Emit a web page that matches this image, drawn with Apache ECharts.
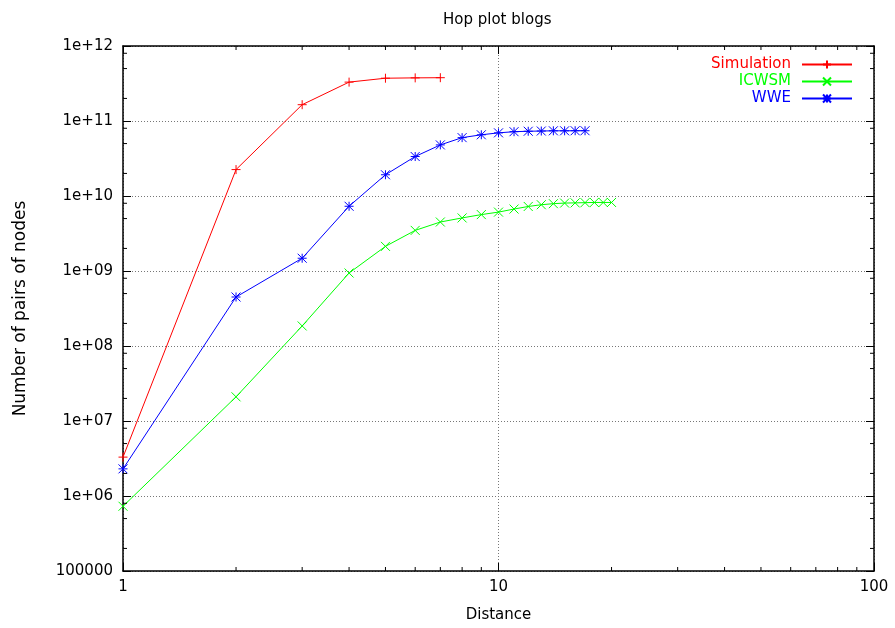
<!DOCTYPE html>
<html>
<head>
<meta charset="utf-8">
<script src="https://cdn.jsdelivr.net/npm/echarts@6/dist/echarts.min.js"></script>
<style>
html, body { margin: 0; padding: 0; background: #fff; }
#chart { width: 895px; height: 628px; }
</style>
</head>
<body>
<div id="chart"></div>
<script>
// ---- data ----
const titleText = 'Hop plot blogs';
const xAxisName = 'Distance';
const yAxisName = 'Number of pairs of nodes';
const seriesNames = ['Simulation', 'ICWSM', 'WWE'];

const simX = [1, 2, 3, 4, 5, 6, 7];
const simY = [3.3e6, 2.25e10, 1.65e11, 3.3e11, 3.72e11, 3.76e11, 3.78e11];

const icwsmX = [1, 2, 3, 4, 5, 6, 7, 8, 9, 10, 11, 12, 13, 14, 15, 16, 17, 18, 19, 20];
const icwsmY = [7.3e5, 2.1e7, 1.85e8, 9.4e8, 2.13e9, 3.48e9, 4.5e9, 5.1e9, 5.65e9, 6.1e9,
                6.7e9, 7.25e9, 7.65e9, 7.9e9, 8.05e9, 8.1e9, 8.15e9, 8.2e9, 8.2e9, 8.2e9];

const wweX = [1, 2, 3, 4, 5, 6, 7, 8, 9, 10, 11, 12, 13, 14, 15, 16, 17];
const wweY = [2.3e6, 4.5e8, 1.48e9, 7.3e9, 1.92e10, 3.36e10, 4.8e10, 6.0e10, 6.55e10, 6.95e10,
              7.2e10, 7.3e10, 7.35e10, 7.4e10, 7.4e10, 7.42e10, 7.42e10];

const xMin = 1, xMax = 100;
const yMin = 1e5, yMax = 1e12;
const xMinorTicks = [2, 3, 4, 5, 6, 7, 8, 9, 20, 30, 40, 50, 60, 70, 80, 90];
const yMinorTicks = [2e5, 5e5, 8e5, 2e6, 5e6, 8e6, 2e7, 5e7, 8e7, 2e8, 5e8, 8e8,
                     2e9, 5e9, 8e9, 2e10, 5e10, 8e10, 2e11, 5e11, 8e11];

// ---- styles ----
const FONT = 'DejaVu Sans';
const FS = 15;
const colors = ['#ff0000', '#00ff00', '#0000ff'];
const symbols = [
  'path://M5,0L5,10M0,5L10,5',
  'path://M0,0L10,10M10,0L0,10',
  'path://M5,0L5,10M0,5L10,5M0,0L10,10M10,0L0,10'
];

function zip(xs, ys) { return xs.map((x, i) => [x, ys[i]]); }

function yLabel(v) {
  const e = Math.round(Math.log10(v));
  if (e <= 5) return String(Math.round(v));
  return '1e+' + (e < 10 ? '0' + e : String(e));
}

function lineSeries(i, xs, ys) {
  return {
    name: seriesNames[i],
    type: 'line',
    data: zip(xs, ys),
    xAxisIndex: 0, yAxisIndex: 0,
    symbol: symbols[i],
    symbolSize: 9,
    showAllSymbol: true,
    lineStyle: { color: colors[i], width: 1 },
    itemStyle: { color: colors[i], borderColor: colors[i], borderWidth: 1 },
    emphasis: { disabled: true },
    z: 3
  };
}

const tickStyle = { stroke: '#000', lineWidth: 1 };
const minorLen = 4;

const xMinorSeries = {
  type: 'custom',
  silent: true,
  xAxisIndex: 0, yAxisIndex: 0,
  data: xMinorTicks.map(v => [v, yMin]),
  clip: false,
  renderItem: function (params, api) {
    const v = api.value(0);
    const b = api.coord([v, yMin]);
    const t = api.coord([v, yMax]);
    return {
      type: 'group',
      children: [
        { type: 'line', shape: { x1: b[0], y1: b[1], x2: b[0], y2: b[1] - minorLen }, style: tickStyle },
        { type: 'line', shape: { x1: t[0], y1: t[1], x2: t[0], y2: t[1] + minorLen }, style: tickStyle }
      ]
    };
  },
  z: 4
};

const yMinorSeries = {
  type: 'custom',
  silent: true,
  xAxisIndex: 0, yAxisIndex: 0,
  data: yMinorTicks.map(v => [xMin, v]),
  clip: false,
  renderItem: function (params, api) {
    const v = api.value(1);
    const l = api.coord([xMin, v]);
    const r = api.coord([xMax, v]);
    return {
      type: 'group',
      children: [
        { type: 'line', shape: { x1: l[0], y1: l[1], x2: l[0] + minorLen, y2: l[1] }, style: tickStyle },
        { type: 'line', shape: { x1: r[0], y1: r[1], x2: r[0] - minorLen, y2: r[1] }, style: tickStyle }
      ]
    };
  },
  z: 4
};

const axisLineStyle = { show: true, lineStyle: { color: '#000', width: 1.5 } };
const majorTick = { show: true, inside: true, length: 8, lineStyle: { color: '#000', width: 1 } };
const gridLine = { show: true, lineStyle: { color: '#777', type: [1, 2], width: 1 } };

function legendFor(i, top) {
  return {
    data: [{ name: seriesNames[i], textStyle: { color: colors[i] } }],
    right: 37,
    top: top,
    orient: 'vertical',
    align: 'right',
    itemWidth: 50,
    itemHeight: 10,
    selectedMode: false,
    textStyle: { fontFamily: FONT, fontSize: FS, color: colors[i], padding: [0, 6, 0, 0] }
  };
}

const option = {
  animation: false,
  backgroundColor: '#fff',
  title: {
    text: titleText,
    left: 438,
    top: 8,
    textStyle: { fontFamily: FONT, fontSize: FS, fontWeight: 'normal', color: '#000' }
  },
  legend: [legendFor(0, 52), legendFor(1, 69), legendFor(2, 86)],
  grid: { left: 123, right: 21, top: 46, bottom: 56, containLabel: false },
  xAxis: [
    {
      type: 'log', logBase: 10, min: xMin, max: xMax, splitNumber: 2,
      position: 'bottom',
      name: xAxisName, nameLocation: 'middle', nameGap: 37,
      nameTextStyle: { fontFamily: FONT, fontSize: FS, color: '#000' },
      axisLine: axisLineStyle,
      axisTick: majorTick,
      axisLabel: { fontFamily: FONT, fontSize: FS, color: '#000', margin: 9,
                   formatter: v => String(Math.round(v)) },
      splitLine: gridLine
    },
    {
      type: 'log', logBase: 10, min: xMin, max: xMax, splitNumber: 2,
      position: 'top',
      axisLine: axisLineStyle,
      axisTick: majorTick,
      axisLabel: { show: false },
      splitLine: { show: false }
    }
  ],
  yAxis: [
    {
      type: 'log', logBase: 10, min: yMin, max: yMax, splitNumber: 7,
      position: 'left',
      name: yAxisName, nameLocation: 'middle', nameGap: 94,
      nameTextStyle: { fontFamily: FONT, fontSize: 17, color: '#000' },
      axisLine: axisLineStyle,
      axisTick: majorTick,
      axisLabel: { fontFamily: FONT, fontSize: FS, color: '#000', margin: 10, formatter: yLabel },
      splitLine: gridLine
    },
    {
      type: 'log', logBase: 10, min: yMin, max: yMax, splitNumber: 7,
      position: 'right',
      axisLine: axisLineStyle,
      axisTick: majorTick,
      axisLabel: { show: false },
      splitLine: { show: false }
    }
  ],
  series: [
    lineSeries(0, simX, simY),
    lineSeries(1, icwsmX, icwsmY),
    lineSeries(2, wweX, wweY),
    xMinorSeries,
    yMinorSeries
  ]
};

const chart = echarts.init(document.getElementById('chart'), null, { renderer: 'canvas' });
chart.setOption(option);
</script>
</body>
</html>
